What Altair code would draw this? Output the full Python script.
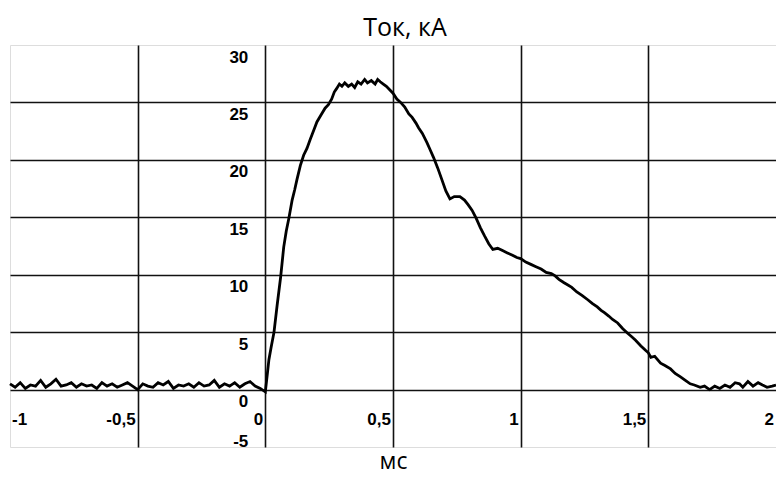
import altair as alt
import pandas as pd

# ---- data ----
time_ms = [
    -1.00, -0.98, -0.96, -0.94, -0.92, -0.90, -0.88, -0.86, -0.84, -0.82,
    -0.80, -0.78, -0.76, -0.74, -0.72, -0.70, -0.68, -0.66, -0.64, -0.62,
    -0.60, -0.58, -0.56, -0.54, -0.52, -0.50, -0.48, -0.46, -0.44, -0.42,
    -0.40, -0.38, -0.36, -0.34, -0.32, -0.30, -0.28, -0.26, -0.24, -0.22,
    -0.20, -0.18, -0.16, -0.14, -0.12, -0.10, -0.08, -0.06, -0.04, -0.02,
    0.000, 0.008, 0.014, 0.022, 0.034, 0.046, 0.060, 0.072, 0.082, 0.092,
    0.105, 0.115, 0.124, 0.137, 0.150, 0.163, 0.176, 0.190, 0.202, 0.218,
    0.234, 0.247, 0.260, 0.270, 0.279, 0.290, 0.300, 0.311, 0.325, 0.338,
    0.350, 0.362, 0.375, 0.389, 0.400, 0.415, 0.430, 0.440, 0.450, 0.462,
    0.474, 0.487, 0.500, 0.515, 0.530, 0.546, 0.562, 0.575, 0.590, 0.600,
    0.615, 0.633, 0.645, 0.659, 0.675, 0.691, 0.707, 0.723, 0.740, 0.762,
    0.780, 0.794, 0.810, 0.826, 0.842, 0.858, 0.875, 0.891, 0.910, 0.929,
    0.948, 0.968, 0.985, 1.000, 1.020, 1.040, 1.060, 1.080, 1.100, 1.120,
    1.135, 1.150, 1.170, 1.185, 1.200, 1.220, 1.240, 1.264, 1.280, 1.300,
    1.315, 1.328, 1.345, 1.360, 1.380, 1.400, 1.419, 1.435, 1.450, 1.471,
    1.490, 1.500, 1.510, 1.525, 1.548, 1.565, 1.587, 1.605, 1.626, 1.645,
    1.664, 1.680, 1.703, 1.720, 1.740, 1.760, 1.780, 1.800, 1.820, 1.840,
    1.857, 1.870, 1.890, 1.910, 1.930, 1.947, 1.965, 1.985, 2.000,
]
current_ka = [
    0.5, 0.2, 0.6, 0.1, 0.4, 0.3, 0.8, 0.2, 0.5, 0.9,
    0.3, 0.4, 0.6, 0.2, 0.5, 0.3, 0.4, 0.1, 0.6, 0.3,
    0.5, 0.2, 0.4, 0.6, 0.3, 0.0, 0.5, 0.3, 0.2, 0.6,
    0.4, 0.7, 0.1, 0.4, 0.3, 0.5, 0.2, 0.6, 0.3, 0.4,
    0.8, 0.2, 0.5, 0.3, 0.6, 0.2, 0.5, 0.7, 0.3, 0.1,
    -0.2, 1.4, 2.6, 3.6, 5.0, 7.3, 9.8, 12.4, 13.8, 14.9,
    16.5, 17.4, 18.3, 19.5, 20.4, 21.0, 21.8, 22.6, 23.3, 23.9,
    24.5, 24.8, 25.3, 25.9, 26.2, 26.6, 26.4, 26.7, 26.4, 26.6,
    26.3, 26.8, 26.6, 27.0, 26.7, 26.9, 26.6, 27.0, 26.8, 26.6,
    26.4, 26.1, 25.8, 25.3, 25.0, 24.6, 24.0, 23.7, 23.2, 22.8,
    22.3, 21.5, 20.9, 20.2, 19.3, 18.3, 17.3, 16.6, 16.8, 16.8,
    16.5, 16.1, 15.6, 14.9, 14.1, 13.4, 12.7, 12.2, 12.3, 12.1,
    11.9, 11.7, 11.5, 11.4, 11.1, 10.9, 10.7, 10.5, 10.2, 10.1,
    9.9, 9.6, 9.3, 9.1, 8.9, 8.5, 8.2, 7.8, 7.5, 7.2,
    6.9, 6.7, 6.4, 6.1, 5.8, 5.3, 4.9, 4.6, 4.3, 3.8,
    3.4, 3.2, 2.8, 2.9, 2.3, 2.1, 1.8, 1.4, 1.1, 0.8,
    0.5, 0.4, 0.2, 0.3, 0.0, 0.3, 0.1, 0.4, 0.2, 0.6,
    0.5, 0.2, 0.7, 0.3, 0.6, 0.4, 0.2, 0.3, 0.4,
]

x_grid = [-0.5, 0, 0.5, 1, 1.5]
y_grid = [0, 5, 10, 15, 20, 25]

x_tick_vals = [-1, -0.5, 0, 0.5, 1, 1.5, 2]
x_tick_text = ["-1", "-0,5", "0", "0,5", "1", "1,5", "2"]
y_tick_vals = [30, 25, 20, 15, 10, 5, 0, -5]
y_tick_text = ["30", "25", "20", "15", "10", "5", "0", "-5"]

title_text = "Ток, кА"
x_title = "мс"

# ---- chart ----
curve = pd.DataFrame({"t": time_ms, "i": current_ka})
xlab = pd.DataFrame({"v": x_tick_vals, "s": x_tick_text, "y0": [0] * len(x_tick_vals)})
ylab = pd.DataFrame({"v": y_tick_vals, "s": y_tick_text, "x0": [0] * len(y_tick_vals)})

xs = alt.Scale(domain=[-1, 2], nice=False, zero=False)
ys = alt.Scale(domain=[-5, 30], nice=False, zero=False)

line = alt.Chart(curve).mark_line(color="black", strokeWidth=2.8).encode(
    x=alt.X("t:Q", scale=xs, axis=alt.Axis(
        values=x_grid, grid=True, labels=False, ticks=False, domain=False,
        title=x_title, titleFont="Open Sans", titleFontSize=23,
        titleFontWeight="normal", titleColor="black", titlePadding=3,
        gridColor="#111111", gridWidth=1.6)),
    y=alt.Y("i:Q", scale=ys, axis=alt.Axis(
        values=y_grid, grid=True, labels=False, ticks=False, domain=False,
        title="", gridColor="#111111", gridWidth=1.6)),
)

lab_font = dict(font="Liberation Sans", fontSize=17, fontWeight="bold", color="black")

xl_main = alt.Chart(xlab).transform_filter("datum.v > -1").mark_text(
    align="right", baseline="alphabetic", dx=-2, dy=35, **lab_font
).encode(x=alt.X("v:Q", scale=xs), y=alt.Y("y0:Q", scale=ys), text="s:N")

xl_first = alt.Chart(xlab).transform_filter("datum.v == -1").mark_text(
    align="left", baseline="alphabetic", dx=2, dy=35, **lab_font
).encode(x=alt.X("v:Q", scale=xs), y=alt.Y("y0:Q", scale=ys), text="s:N")

yl_main = alt.Chart(ylab).transform_filter("datum.v > -5").mark_text(
    align="right", baseline="alphabetic", dx=-17, dy=17.5, **lab_font
).encode(x=alt.X("x0:Q", scale=xs), y=alt.Y("v:Q", scale=ys), text="s:N")

yl_last = alt.Chart(ylab).transform_filter("datum.v == -5").mark_text(
    align="right", baseline="alphabetic", dx=-17, dy=0, **lab_font
).encode(x=alt.X("x0:Q", scale=xs), y=alt.Y("v:Q", scale=ys), text="s:N")

chart = alt.layer(line, xl_main, xl_first, yl_main, yl_last).properties(
    width=766,
    height=402,
    title=alt.TitleParams(title_text, font="Open Sans", fontSize=25,
                          fontWeight="normal", color="black", anchor="middle",
                          dx=12, offset=4),
    autosize=alt.AutoSizeParams(type="none"),
    padding={"left": 2, "top": 37, "right": 0, "bottom": 27},
).configure_view(stroke="black", strokeWidth=2).configure(background="white")

chart.save("out.html", embed_options={"renderer": "svg", "actions": False})
